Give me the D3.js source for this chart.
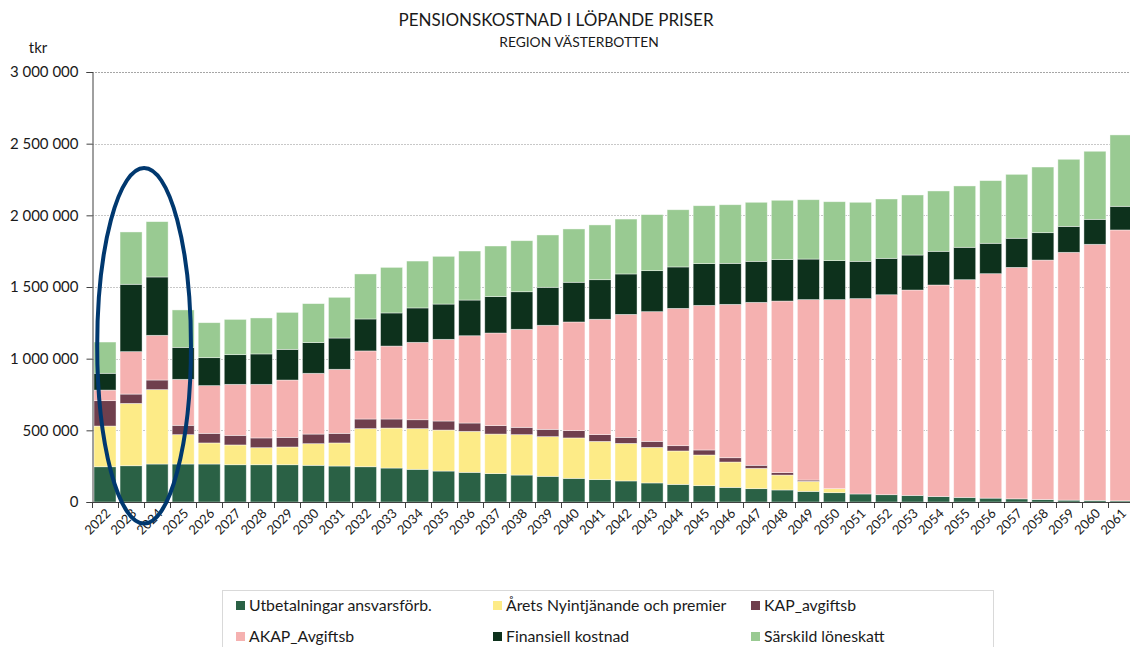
<!DOCTYPE html>
<html>
<head>
<meta charset="utf-8">
<script src="https://cdn.jsdelivr.net/npm/d3@7"></script>
<style>
  body { margin: 0; background: #fff; }
  svg { display: block; font-family: Lato, "Open Sans", sans-serif; }
</style>
</head>
<body>
<svg id="chart" width="1130" height="647"></svg>
<script>
// Data (tkr)
const years = d3.range(2022, 2062);

const utbetalningar = [246000, 253000, 265000, 265000, 265000, 260000, 260000, 260000, 256000, 251000,
  246000, 237000, 228000, 216000, 207000, 198000, 188000, 179000, 165000, 156000,
  147000, 133000, 123000, 114000, 102000, 93000, 84000, 74000, 65000, 56000,
  51000, 46000, 38000, 32000, 27000, 22000, 17000, 13000, 11000, 8000];
const aretsNyintjanande = [284000, 435000, 519000, 205000, 147000, 138000, 119000, 124000, 151000, 161000,
  266000, 279000, 284000, 286000, 286000, 276000, 282000, 277000, 282000, 267000,
  262000, 248000, 233000, 214000, 177000, 142000, 104000, 70000, 28000, 0,
  0, 0, 0, 0, 0, 0, 0, 0, 0, 0];
const kapAvgiftsb = [177000, 65000, 67000, 65000, 67000, 67000, 68000, 67000, 67000, 67000,
  67000, 63000, 62000, 63000, 58000, 59000, 51000, 51000, 51000, 47000,
  42000, 42000, 37000, 35000, 30000, 21000, 17000, 9000, 0, 0,
  0, 0, 0, 0, 0, 0, 0, 0, 0, 0];
const akapAvgiftsb = [74000, 296000, 312000, 321000, 333000, 356000, 374000, 400000, 424000, 447000,
  475000, 509000, 540000, 570000, 609000, 646000, 684000, 726000, 758000, 805000,
  858000, 905000, 958000, 1009000, 1070000, 1137000, 1197000, 1259000, 1319000, 1363000,
  1395000, 1433000, 1476000, 1519000, 1566000, 1615000, 1671000, 1729000, 1787000, 1890000];
const finansiellKostnad = [117000, 470000, 407000, 223000, 195000, 207000, 212000, 214000, 214000, 218000,
  223000, 231000, 240000, 246000, 249000, 254000, 262000, 265000, 277000, 276000,
  282000, 286000, 289000, 291000, 286000, 286000, 289000, 283000, 272000, 260000,
  254000, 244000, 235000, 226000, 212000, 203000, 191000, 181000, 174000, 165000];
const sarskildLoneskatt = [218000, 365000, 386000, 261000, 244000, 246000, 251000, 258000, 272000, 284000,
  314000, 318000, 327000, 333000, 342000, 353000, 356000, 365000, 372000, 382000,
  383000, 391000, 399000, 404000, 409000, 412000, 414000, 414000, 411000, 412000,
  414000, 419000, 421000, 428000, 437000, 446000, 458000, 468000, 475000, 498000];

const seriesNames = ["Utbetalningar ansvarsförb.", "Årets Nyintjänande och premier", "KAP_avgiftsb",
  "AKAP_Avgiftsb", "Finansiell kostnad", "Särskild löneskatt"];
const seriesValues = [utbetalningar, aretsNyintjanande, kapAvgiftsb, akapAvgiftsb, finansiellKostnad, sarskildLoneskatt];
const seriesColors = ["#2a6145", "#fdeb87", "#6f3f4d", "#f5b1b0", "#0d311c", "#99ca92"];

const yTicks = [0, 500000, 1000000, 1500000, 2000000, 2500000, 3000000];

// Highlighted years (ellipse annotation)
const highlightYears = [2023, 2024];

const svg = d3.select("#chart");
const width = 1130;

// Build rows for d3.stack
const rows = years.map((year, i) => {
  const row = { year };
  seriesNames.forEach((name, s) => { row[name] = seriesValues[s][i]; });
  return row;
});
const stacked = d3.stack().keys(seriesNames)(rows);

const x = d3.scaleBand()
  .domain(years)
  .range([92, 1134])
  .paddingInner(0.155)
  .paddingOuter(0.077);

const y = d3.scaleLinear()
  .domain([0, 3000000])
  .range([502, 72]);

const fmt = d3.formatLocale({ decimal: ",", thousands: " ", grouping: [3], currency: ["", " kr"] }).format(",");

// Titles
svg.append("text")
  .attr("x", 556).attr("y", 26)
  .attr("text-anchor", "middle")
  .attr("font-size", 17)
  .attr("fill", "#1a1a1a")
  .text("PENSIONSKOSTNAD I LÖPANDE PRISER");
svg.append("text")
  .attr("x", 579).attr("y", 47)
  .attr("text-anchor", "middle")
  .attr("font-size", 13.8)
  .attr("fill", "#1a1a1a")
  .text("REGION VÄSTERBOTTEN");
svg.append("text")
  .attr("x", 38).attr("y", 53)
  .attr("text-anchor", "middle")
  .attr("font-size", 15)
  .attr("fill", "#1a1a1a")
  .text("tkr");

// Gridlines
svg.append("g")
  .selectAll("line")
  .data(yTicks.slice(1))
  .join("line")
  .attr("x1", 92).attr("x2", width)
  .attr("y1", d => Math.round(y(d)) + 0.5)
  .attr("y2", d => Math.round(y(d)) + 0.5)
  .attr("stroke", d => d === 3000000 ? "#a6a6a6" : "#c8c8c8")
  .attr("stroke-width", 1)
  .attr("stroke-dasharray", "2,1");

// Bars
svg.append("g")
  .selectAll("g")
  .data(stacked)
  .join("g")
  .attr("fill", (d, i) => seriesColors[i])
  .selectAll("rect")
  .data(d => d.filter(p => p[1] - p[0] > 0))
  .join("rect")
  .attr("x", d => x(d.data.year))
  .attr("y", d => y(d[1]))
  .attr("width", x.bandwidth())
  .attr("height", d => y(d[0]) - y(d[1]))
  .attr("stroke", "rgba(255,255,255,0.55)")
  .attr("stroke-width", 0.75);

// Y axis
const yAxis = svg.append("g")
  .attr("transform", "translate(92.5,0)")
  .call(d3.axisLeft(y).tickValues(yTicks).tickSize(6).tickPadding(8).tickFormat(fmt));
yAxis.select(".domain").attr("stroke", "#404040");
yAxis.selectAll(".tick line").attr("stroke", "#404040");
yAxis.selectAll(".tick text")
  .attr("font-family", "Lato, 'Open Sans', sans-serif")
  .attr("font-size", 15)
  .attr("fill", "#1a1a1a");

// X axis: baseline, ticks between categories, rotated labels
const step = x.step();
const gap = step - x.bandwidth();
const xAxis = svg.append("g");
xAxis.append("line")
  .attr("x1", 92).attr("x2", width)
  .attr("y1", 502.5).attr("y2", 502.5)
  .attr("stroke", "#404040");
xAxis.selectAll("line.tick")
  .data(years)
  .join("line")
  .attr("class", "tick")
  .attr("x1", d => Math.round(x(d) - gap / 2) + 0.5)
  .attr("x2", d => Math.round(x(d) - gap / 2) + 0.5)
  .attr("y1", 502).attr("y2", 508)
  .attr("stroke", "#404040");
xAxis.selectAll("text")
  .data(years)
  .join("text")
  .attr("transform", d => `translate(${x(d) + x.bandwidth() / 2 + 3},${511}) rotate(-45)`)
  .attr("text-anchor", "end")
  .attr("dy", "0.35em")
  .attr("font-size", 13)
  .attr("fill", "#1a1a1a")
  .text(d => d);

// Ellipse annotation around the highlighted years
const ex0 = x(highlightYears[0]) + x.bandwidth() / 2;
const ex1 = x(highlightYears[1]) + x.bandwidth() / 2;
svg.append("ellipse")
  .attr("cx", (ex0 + ex1) / 2)
  .attr("cy", (y(2330000) + y(-150000)) / 2)
  .attr("rx", step * 1.8)
  .attr("ry", (y(-150000) - y(2330000)) / 2)
  .attr("fill", "none")
  .attr("stroke", "#00386f")
  .attr("stroke-width", 4);

// Legend
const legend = svg.append("g");
legend.append("rect")
  .attr("x", 222.5).attr("y", 590.5)
  .attr("width", 771).attr("height", 70)
  .attr("fill", "#fff")
  .attr("stroke", "#d9d9d9");
const legendCols = [236, 493, 751];
const legendRows = [605.5, 636.5];
const item = legend.selectAll("g.item")
  .data(seriesNames)
  .join("g")
  .attr("class", "item")
  .attr("transform", (d, i) => `translate(${legendCols[i % 3]},${legendRows[Math.floor(i / 3)]})`);
item.append("rect")
  .attr("x", 0).attr("y", -4.5)
  .attr("width", 9).attr("height", 9)
  .attr("fill", (d, i) => seriesColors[i]);
item.append("text")
  .attr("x", 13).attr("dy", "0.36em")
  .attr("font-size", 15.8)
  .attr("fill", "#1a1a1a")
  .text(d => d);
</script>
</body>
</html>
